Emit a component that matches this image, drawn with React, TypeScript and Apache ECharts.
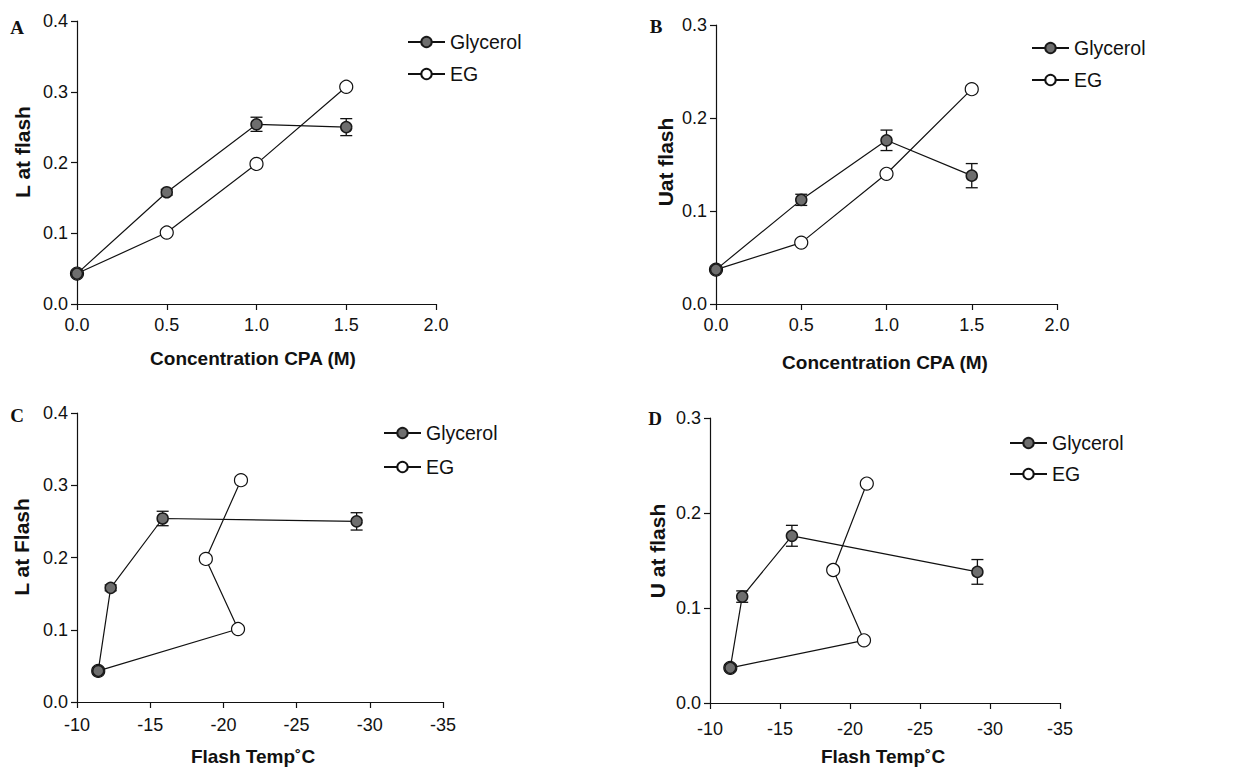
import React, { useEffect, useRef } from 'react';
import * as echarts from 'echarts';

// ---- data ----
const concentration = [0, 0.5, 1.0, 1.5];
const glycerolL = [0.043, 0.158, 0.254, 0.25];
const glycerolLErr = [0.003, 0.004, 0.01, 0.012];
const egL = [0.043, 0.101, 0.198, 0.307];
const glycerolU = [0.037, 0.112, 0.176, 0.138];
const glycerolUErr = [0.003, 0.006, 0.011, 0.013];
const egU = [0.037, 0.066, 0.14, 0.231];
const glycerolTemp = [-11.45, -12.3, -15.85, -29.1];
const egTemp = [-11.45, -21.0, -18.8, -21.2];

const concTicks = { min: 0, max: 2, interval: 0.5 };
const tempTicks = { min: -35, max: -10, interval: 5 };
const yTicksL = { min: 0, max: 0.4, interval: 0.1 };
const yTicksU = { min: 0, max: 0.3, interval: 0.1 };

const seriesNames = ['Glycerol', 'EG'];
const panelLetters = ['A', 'B', 'C', 'D'];
const yTitles = ['L at flash', 'Uat flash', 'L at Flash', 'U at flash'];
const xTitles = ['Concentration CPA (M)', 'Concentration CPA (M)', 'Flash Temp˚C', 'Flash Temp˚C'];

const SANS = '"Liberation Sans", Arial, sans-serif';
const SERIF = '"Liberation Serif", "Times New Roman", serif';

const pair = (xs: number[], ys: number[]) => xs.map((x, i) => [x, ys[i]]);
const triple = (xs: number[], ys: number[], es: number[]) => xs.map((x, i) => [x, ys[i], es[i]]);

const panels = [
  { gx: concentration, ex: concentration, gy: glycerolL, ge: glycerolLErr, ey: egL, xt: concTicks, yt: yTicksL, inv: false, fixed: true,
    grid: { left: 77, top: 21, width: 359, height: 283 }, xMargin: 12,
    legend: { left: 407, top: 32, gap: 12 },
    letter: [17, 27], yTitle: [22, 152], xTitle: [253, 358] },
  { gx: concentration, ex: concentration, gy: glycerolU, ge: glycerolUErr, ey: egU, xt: concTicks, yt: yTicksU, inv: false, fixed: true,
    grid: { left: 716, top: 25, width: 341, height: 279 }, xMargin: 12,
    legend: { left: 1031, top: 38, gap: 12 },
    letter: [656, 26], yTitle: [665, 162], xTitle: [885, 362] },
  { gx: glycerolTemp, ex: egTemp, gy: glycerolL, ge: glycerolLErr, ey: egL, xt: tempTicks, yt: yTicksL, inv: true, fixed: false,
    grid: { left: 77, top: 413, width: 366, height: 289 }, xMargin: 14,
    legend: { left: 383, top: 423, gap: 14 },
    letter: [17, 415], yTitle: [21, 547], xTitle: [253, 756] },
  { gx: glycerolTemp, ex: egTemp, gy: glycerolU, ge: glycerolUErr, ey: egU, xt: tempTicks, yt: yTicksU, inv: true, fixed: false,
    grid: { left: 710, top: 418, width: 350, height: 285 }, xMargin: 17,
    legend: { left: 1009, top: 433, gap: 11 },
    letter: [655, 418], yTitle: [657, 551], xTitle: [883, 756] },
];

const axisCommon = {
  type: 'value',
  splitLine: { show: false },
  axisLine: { show: true, onZero: false, lineStyle: { color: '#111', width: 1.2 } },
  axisTick: { show: true, inside: false, length: 6, lineStyle: { color: '#111', width: 1.2 } },
};

function buildOption() {
  const grid: any[] = [];
  const xAxis: any[] = [];
  const yAxis: any[] = [];
  const series: any[] = [];
  const legend: any[] = [];
  const graphic: any[] = [];

  panels.forEach((p, i) => {
    grid.push({ ...p.grid, containLabel: false });
    xAxis.push({
      ...axisCommon,
      gridIndex: i,
      min: p.xt.min, max: p.xt.max, interval: p.xt.interval,
      inverse: p.inv,
      axisLabel: {
        margin: p.xMargin, color: '#111', fontSize: 18, fontFamily: SANS,
        formatter: (v: number) => (p.fixed ? v.toFixed(1) : String(v)),
      },
    });
    yAxis.push({
      ...axisCommon,
      gridIndex: i,
      min: p.yt.min, max: p.yt.max, interval: p.yt.interval,
      axisLabel: { margin: 9, color: '#111', fontSize: 18, fontFamily: SANS, formatter: (v: number) => v.toFixed(1) },
    });
    series.push({
      type: 'custom', name: 'err' + i, xAxisIndex: i, yAxisIndex: i, z: 1, silent: true,
      data: triple(p.gx, p.gy, p.ge),
      renderItem: (params: any, api: any) => {
        const x = api.value(0), y = api.value(1), e = api.value(2);
        const top = api.coord([x, y + e]);
        const bot = api.coord([x, y - e]);
        const w = 6;
        const st = { stroke: '#111', lineWidth: 1.3 };
        return {
          type: 'group',
          children: [
            { type: 'line', shape: { x1: top[0], y1: top[1], x2: bot[0], y2: bot[1] }, style: st },
            { type: 'line', shape: { x1: top[0] - w, y1: top[1], x2: top[0] + w, y2: top[1] }, style: st },
            { type: 'line', shape: { x1: bot[0] - w, y1: bot[1], x2: bot[0] + w, y2: bot[1] }, style: st },
          ],
        };
      },
    });
    series.push({
      type: 'line', name: seriesNames[1], xAxisIndex: i, yAxisIndex: i, z: 3,
      data: pair(p.ex, p.ey), clip: false,
      symbol: 'circle', symbolSize: 13, showSymbol: true,
      lineStyle: { color: '#111', width: 1.2 },
      itemStyle: { color: '#ffffff', borderColor: '#111', borderWidth: 1.2 },
    });
    series.push({
      type: 'line', name: seriesNames[0], xAxisIndex: i, yAxisIndex: i, z: 4,
      data: pair(p.gx, p.gy), clip: false,
      symbol: 'circle', symbolSize: 11, showSymbol: true,
      lineStyle: { color: '#111', width: 1.2 },
      itemStyle: { color: '#6e6e6e', borderColor: '#1a1a1a', borderWidth: 1.5 },
    });
    legend.push({
      orient: 'vertical', left: p.legend.left, top: p.legend.top, padding: 0,
      itemWidth: 37, itemHeight: 13, itemGap: p.legend.gap, selectedMode: false,
      data: seriesNames,
      textStyle: { fontSize: 19.5, fontFamily: SANS, color: '#111' },
    });
    graphic.push({
      type: 'text', x: p.letter[0], y: p.letter[1],
      style: { text: panelLetters[i], font: `bold 19px ${SERIF}`, fill: '#111', align: 'center', verticalAlign: 'middle' },
    });
    graphic.push({
      type: 'text', x: p.yTitle[0], y: p.yTitle[1], rotation: Math.PI / 2,
      style: { text: yTitles[i], font: `bold 21px ${SANS}`, fill: '#111', align: 'center', verticalAlign: 'middle' },
    });
    graphic.push({
      type: 'text', x: p.xTitle[0], y: p.xTitle[1],
      style: { text: xTitles[i], font: `bold 19px ${SANS}`, fill: '#111', align: 'center', verticalAlign: 'middle' },
    });
  });

  return { animation: false, backgroundColor: '#ffffff', grid, xAxis, yAxis, series, legend, graphic };
}

export default function App() {
  const ref = useRef<HTMLDivElement>(null);
  useEffect(() => {
    const chart = echarts.init(ref.current as HTMLDivElement, null, { renderer: 'svg' });
    chart.setOption(buildOption() as any);
    return () => chart.dispose();
  }, []);
  return (
    <div
      ref={ref}
      style={{ position: 'absolute', left: 0, top: 0, width: 1250, height: 767, background: '#fff' }}
    />
  );
}
